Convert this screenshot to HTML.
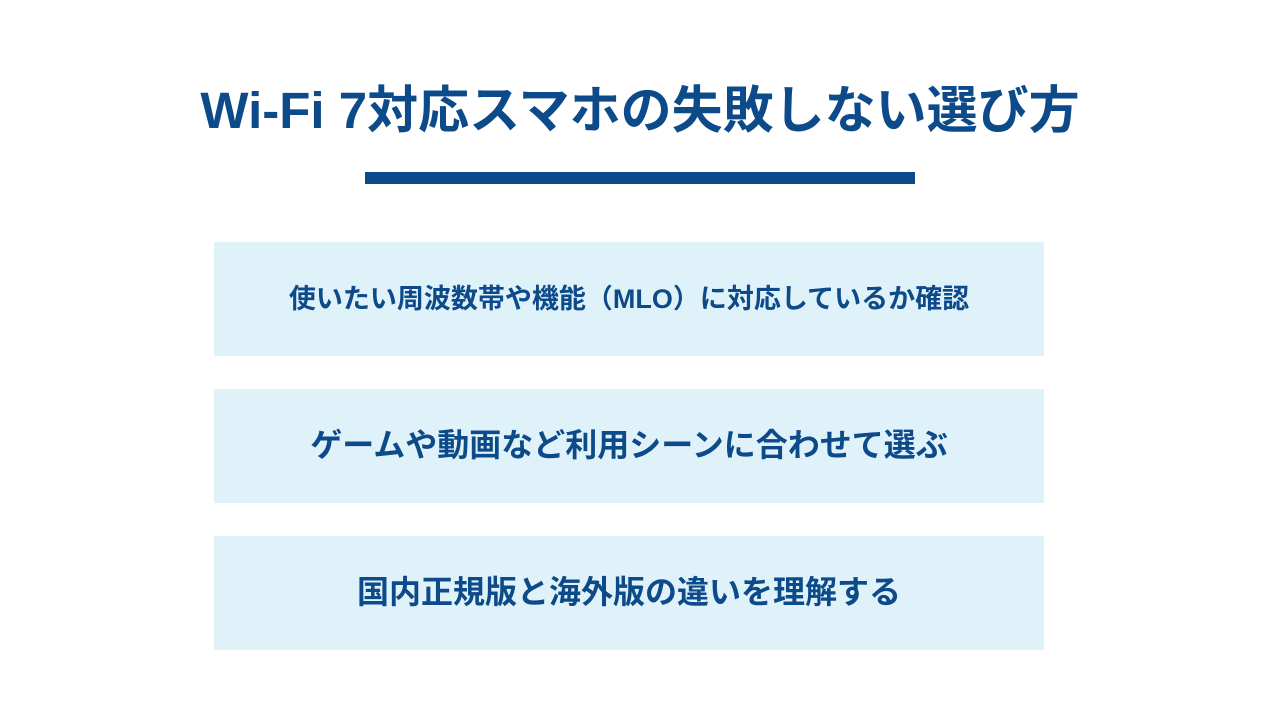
<!DOCTYPE html>
<html><head><meta charset="utf-8"><style>
body{margin:0;width:1280px;height:720px;background:#fff;font-family:"Liberation Sans","Noto Sans CJK JP",sans-serif;color:#0d4a8a;position:relative;overflow:hidden}
.t{position:absolute;top:78px;left:0;width:1280px;text-align:center;font-size:51px;font-weight:bold;line-height:66px}
.bar{position:absolute;left:365px;top:172px;width:550px;height:12px;background:#0d4a8a}
.b{position:absolute;left:214px;width:830px;height:114px;background:#e0f2f9;display:flex;align-items:center;justify-content:center;font-weight:bold;box-sizing:border-box;padding-bottom:6px}
</style></head><body>
<div class="t">Wi-Fi 7対応スマホの失敗しない選び方</div>
<div class="bar"></div>
<div class="b" style="top:242px;font-size:27px">使いたい周波数帯や機能（MLO）に対応しているか確認</div>
<div class="b" style="top:389px;font-size:32px">ゲームや動画など利用シーンに合わせて選ぶ</div>
<div class="b" style="top:536px;font-size:32px">国内正規版と海外版の違いを理解する</div>
</body></html>
